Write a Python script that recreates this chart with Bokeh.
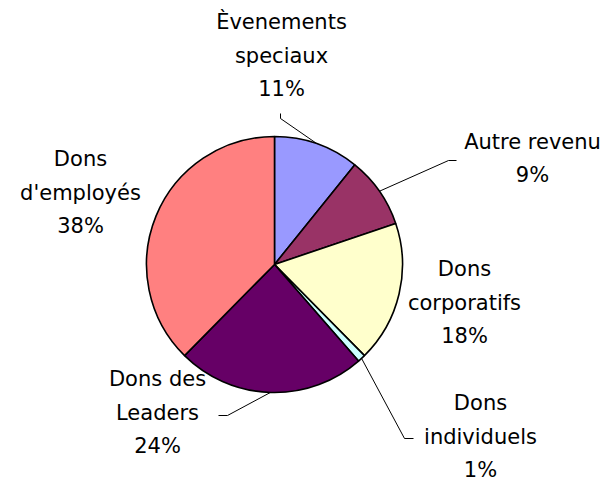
import math
from bokeh.plotting import figure
from bokeh.models import Range1d, ColumnDataSource
from bokeh.core.properties import value
from bokeh.embed import file_html
from bokeh.resources import INLINE

# ---- data ----
categories = ["Èvenements\nspeciaux", "Autre revenu", "Dons\ncorporatifs",
              "Dons\nindividuels", "Dons des\nLeaders", "Dons\nd'employés"]
values = [10.8, 9.0, 17.8, 1.0, 23.8, 37.6]
colors = ["#9999FF", "#993366", "#FFFFCC", "#CCFFFF", "#660066", "#FF8080"]

# ---- layout (screen pixel coordinates) ----
CX, CY, R = 274, 264, 128
label_pos = [(281, 21.5), (532, 141), (464, 268.5), (480, 402.5), (157, 378.5), (80, 158.7)]
leader_pts = [
    [(280, 118), (280, 113)],
    [(448, 160), (456, 160)],
    None,
    [(404, 438), (413, 438)],
    [(227, 415), (218, 415)],
    None,
]
LINE_H = 33.5
FONT = "DejaVu Sans"

W, H = 608, 483
p = figure(width=W, height=H, output_backend="svg", toolbar_location=None,
           x_range=Range1d(0, W), y_range=Range1d(-H, 0),
           x_axis_location=None, y_axis_location=None, min_border=0)
p.grid.visible = False
p.outline_line_color = None
p.background_fill_color = "white"
p.border_fill_color = "white"

total = sum(values)
starts, ends, mids = [], [], []
c = 0.0
for v in values:
    a0 = math.pi / 2 - 2 * math.pi * c / total
    c += v
    a1 = math.pi / 2 - 2 * math.pi * c / total
    starts.append(a1)
    ends.append(a0)
    mids.append((a0 + a1) / 2)

src = ColumnDataSource(dict(start=starts, end=ends, color=colors))
p.wedge(x=CX, y=-CY, radius=R, start_angle="start", end_angle="end",
        fill_color="color", line_color="black", line_width=1.6, source=src)

# leader lines
for i, pts in enumerate(leader_pts):
    if pts is None:
        continue
    ex = CX + R * math.cos(mids[i])
    ey = CY - R * math.sin(mids[i])
    xs = [ex] + [q[0] for q in pts]
    ys = [-ey] + [-q[1] for q in pts]
    p.line(xs, ys, line_color="black", line_width=1)

# labels
tx, ty, tt = [], [], []
for i, cat in enumerate(categories):
    pct = f"{round(100 * values[i] / total)}%"
    lines = cat.split("\n") + [pct]
    x0, y0 = label_pos[i]
    for k, ln in enumerate(lines):
        tx.append(x0)
        ty.append(-(y0 + k * LINE_H))
        tt.append(ln)
p.text(x=tx, y=ty, text=tt, text_align="center", text_baseline="middle",
       text_font=value(FONT), text_font_size="21px", text_color="black")

open("out.html", "w").write(file_html(p, INLINE))
